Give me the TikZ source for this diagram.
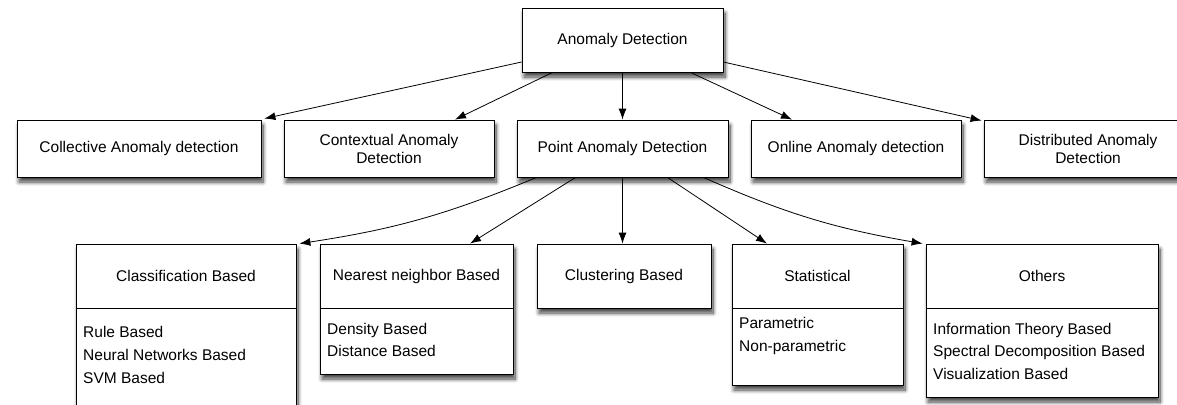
\documentclass[tikz,border=0pt]{standalone}
\usepackage{fontspec}
\setmainfont{Liberation Sans}
\usetikzlibrary{arrows.meta,shadows.blur}
\newcommand\dgfont{\fontsize{15.5}{18}\selectfont}
\begin{document}
\begin{tikzpicture}[x=1pt,y=-1pt,
  box/.style={draw=black, line width=0.8pt, fill=white, inner sep=0pt, align=center, font=\dgfont,
    blur shadow={shadow blur steps=10, shadow xshift=2pt, shadow yshift=-5pt, shadow opacity=75, shadow blur radius=4pt}},
  head/.style={draw=black, line width=0.8pt, inner sep=0pt, align=center, font=\dgfont, minimum height=64},
  item/.style={anchor=west, inner sep=0pt, font=\dgfont, text height=11pt, text depth=3.5pt},
  arr/.style={draw=black, line width=0.8pt, -{Latex[length=11pt,width=8pt]}}]
\useasboundingbox (0,0) rectangle (1177,404);
\clip (0,0) rectangle (1177,404);
% top
\node[box, minimum width=201, minimum height=64] (top) at (622.5,40) {Anomaly Detection};
% second row
\node[box, minimum width=244, minimum height=57] (col) at (139,148.5) {Collective Anomaly detection};
\node[box, minimum width=210, minimum height=57] (ctx) at (389,148.5) {Contextual Anomaly\\Detection};
\node[box, minimum width=211, minimum height=57] (pt) at (622.5,148.5) {Point Anomaly Detection};
\node[box, minimum width=210, minimum height=57] (onl) at (856,148.5) {Online Anomaly detection};
\node[box, minimum width=208, minimum height=57] (dist) at (1088,148.5) {Distributed Anomaly\\Detection};
% third row outer boxes
\node[box, minimum width=220, minimum height=186] (cls) at (186,337) {};
\node[box, minimum width=193, minimum height=130] (nn) at (416.5,309) {};
\node[box, minimum width=174, minimum height=64] (clu) at (624,276) {Clustering Based};
\node[box, minimum width=171, minimum height=141] (sta) at (817.5,314.5) {};
\node[box, minimum width=232, minimum height=153] (oth) at (1042,320.5) {};
% headers
\node[head, minimum width=220] (clsh) at (186,276) {Classification Based};
\node[head, minimum width=193] (nnh) at (416.5,276) {Nearest neighbor Based};
\node[head, minimum width=171] (stah) at (817.5,276) {Statistical};
\node[head, minimum width=232] (othh) at (1042,276) {Others};
% list items
\node[item] (cls1) at (83,333.5) {Rule Based};
\node[item] (cls2) at (83,356.5) {Neural Networks Based};
\node[item] (cls3) at (83,379.5) {SVM Based};
\node[item] (nn1) at (327,330.5) {Density Based};
\node[item] (nn2) at (327,352.5) {Distance Based};
\node[item] (sta1) at (739,324.5) {Parametric};
\node[item] (sta2) at (739,347.5) {Non-parametric};
\node[item] (oth1) at (933,330.5) {Information Theory Based};
\node[item] (oth2) at (933,353) {Spectral Decomposition Based};
\node[item] (oth3) at (933,375.5) {Visualization Based};
% arrows from top
\draw[arr] ([yshift=-22pt]top.west) -- ([xshift=3pt,yshift=1pt]col.north east);
\draw[arr] ([xshift=31pt]top.south west) -- ([xshift=66pt]ctx.north);
\draw[arr] (top.south) -- (pt.north);
\draw[arr] ([xshift=-33pt]top.south east) -- ([xshift=-64pt]onl.north);
\draw[arr] ([yshift=-22pt]top.east) -- ([xshift=-2pt,yshift=-1pt]dist.north west);
% arrows from point
\draw[arr] ([xshift=20pt]pt.south west) to[bend left=7] ([xshift=3pt]cls.north east);
\draw[arr] ([xshift=59pt]pt.south west) -- ([xshift=53.5pt]nn.north);
\draw[arr] (pt.south) -- (pt.south |- clu.north);
\draw[arr] ([xshift=-61pt]pt.south east) -- ([xshift=-50.5pt]sta.north);
\draw[arr] ([xshift=-25pt]pt.south east) to[bend right=7] ([xshift=-3pt]oth.north west);
\end{tikzpicture}
\end{document}
